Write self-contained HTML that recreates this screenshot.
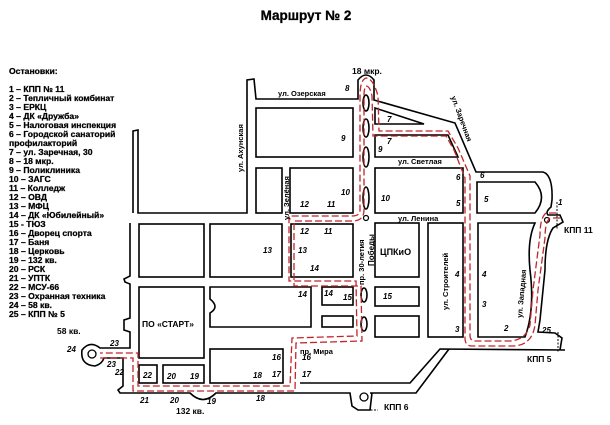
<!DOCTYPE html>
<html><head><meta charset="utf-8"><style>
body{margin:0;background:#fff}
svg{display:block}
text{font-family:"Liberation Sans",sans-serif;font-weight:bold}
.lg{font-size:8.6px;stroke:#000;stroke-width:0.25}
.n{font-size:8px;font-style:italic;font-weight:normal}
.s{font-size:7.5px}
.b{fill:#fff;stroke:#000;stroke-width:1.6}
.r{fill:none;stroke:#c0262b;stroke-width:1.3;stroke-dasharray:7 3}
</style></head><body>
<svg width="610" height="425" viewBox="0 0 610 425" xmlns="http://www.w3.org/2000/svg">
<text x="306" y="20" text-anchor="middle" font-size="13.5" stroke="#000" stroke-width="0.3">Маршрут № 2</text>
<g class="lg">
<text x="9" y="74">Остановки:</text>
<text x="9" y="92">1 – КПП № 11</text>
<text x="9" y="101">2 – Тепличный комбинат</text>
<text x="9" y="110">3 – ЕРКЦ</text>
<text x="9" y="119">4 – ДК «Дружба»</text>
<text x="9" y="128">5 – Налоговая инспекция</text>
<text x="9" y="137">6 – Городской санаторий</text>
<text x="9" y="146">профилакторий</text>
<text x="9" y="155">7 – ул. Заречная, 30</text>
<text x="9" y="164">8 – 18 мкр.</text>
<text x="9" y="173">9 – Поликлиника</text>
<text x="9" y="182">10 – ЗАГС</text>
<text x="9" y="191">11 – Колледж</text>
<text x="9" y="200">12 – ОВД</text>
<text x="9" y="209">13 – МФЦ</text>
<text x="9" y="218">14 – ДК «Юбилейный»</text>
<text x="9" y="227">15 - ТЮЗ</text>
<text x="9" y="236">16 – Дворец спорта</text>
<text x="9" y="245">17 – Баня</text>
<text x="9" y="254">18 – Церковь</text>
<text x="9" y="263">19 – 132 кв.</text>
<text x="9" y="272">20 – РСК</text>
<text x="9" y="281">21 – УПТК</text>
<text x="9" y="290">22 – МСУ-66</text>
<text x="9" y="299">23 – Охранная техника</text>
<text x="9" y="308">24 – 58 кв.</text>
<text x="9" y="317">25 – КПП № 5</text>
</g>
<g fill="none" stroke="#000" stroke-width="1.6">
<path d="M133,213 L133,131 L138,130 L138,213 L247,213 L247,80 L254,79 L256,99 L358,99 L358,80 Q366,70 374,80 L374,100 L455,123 L476,172 L543,172 Q553,175 552,200 L551,207 Q545,212 548,215 L560,215 L563,222 L553,228 Q545,240 545,270 L540,320 L538,332 L555,333 L562,338 L560,350 L565,350 L440,349 L410,383 L300,383"/>
<path d="M449,349 L416,393 L370,393"/>
<path d="M130,223 L130,276 L124,279 L125,282 L130,284 L130,318 L124,320 L124,330 L130,332 L130,348 L100,348 Q90,340 82,350 Q80,365 95,366 Q102,364 104,358 L123,358 L123,386 L118,390 L120,393 L190,393 Q203,406 216,393 L350,393 L352,406 L358,410 L370,410 L372,393"/>
</g>
<circle cx="92" cy="354" r="4" fill="none" stroke="#000" stroke-width="1.3"/>
<circle cx="364" cy="397" r="4" fill="none" stroke="#000" stroke-width="1.3"/>
<circle cx="366" cy="218" r="2.5" fill="none" stroke="#000" stroke-width="1.2"/>
<circle cx="547" cy="220" r="2.5" fill="none" stroke="#000" stroke-width="1.2"/>
<path d="M360,410 L378,410 M557,202 L557,230 M558,332 L558,352" stroke="#000" stroke-width="1" stroke-dasharray="2 1.5"/>
<rect class="b" x="256" y="108" width="97" height="49"/>
<rect class="b" x="256" y="168" width="26" height="45"/>
<rect class="b" x="290" y="168" width="63" height="45"/>
<path class="b" d="M375,108 L424,124 L375,124 Z"/>
<path class="b" d="M375,135 L448,135 L458,157 L375,157 Z"/>
<rect class="b" x="375" y="168" width="88" height="45"/>
<path class="b" d="M477,182 L535,182 Q548,197 535,213 L477,213 Z"/>
<rect class="b" x="139" y="224" width="65" height="53"/>
<rect class="b" x="210" y="224" width="72" height="53"/>
<rect class="b" x="291" y="224" width="62" height="53"/>
<rect class="b" x="375" y="223" width="44" height="54"/>
<rect class="b" x="428" y="223" width="35" height="114"/>
<path class="b" d="M478,223 L535,223 Q527,240 530,270 Q535,310 525,337 L478,337 Z"/>
<rect class="b" x="139" y="287" width="65" height="71"/>
<path class="b" d="M210,287 L311,287 L311,327 L210,327 L210,313 Q220,307 210,299 Z"/>
<rect class="b" x="322" y="287" width="31" height="18"/>
<rect class="b" x="322" y="316" width="31" height="11"/>
<rect class="b" x="375" y="287" width="44" height="19"/>
<rect class="b" x="375" y="316" width="44" height="21"/>
<rect class="b" x="210" y="349" width="73" height="34"/>
<rect class="b" x="139" y="365" width="18" height="18"/>
<rect class="b" x="163" y="365" width="41" height="18"/>
<g class="b"><ellipse cx="366" cy="103" rx="3" ry="8"/><ellipse cx="366" cy="128" rx="3" ry="9"/><ellipse cx="366" cy="157" rx="3" ry="10"/><ellipse cx="366" cy="198" rx="3" ry="11"/><ellipse cx="364" cy="295" rx="3" ry="7"/><ellipse cx="364" cy="324" rx="3" ry="7"/></g>
<path class="r" d="M556,213 L546,213 Q540,218 540,235 L533,290 L530,325 Q526,340 510,341 L475,341 Q470,341 470,335 L470,176 L458,148 L448,131 L379,131 L378,96 Q373,78 366,78 Q360,80 360,96 L360,210 Q360,216 352,216 L289,216 L289,281 L356,281 L357,336 L292,338 L290,386 L138,386 L138,353 L100,353"/>
<path class="r" d="M560,218 L550,218 Q545,222 545,238 L538,290 L535,325 Q532,346 512,346 L472,346 Q465,346 465,338 L465,178 L454,150 L446,136 L373,136 L372,96 Q370,86 366,86 Q364,88 364,96 L364,210 Q364,221 352,221 L294,221 L294,286 L361,286 L362,341 L296,343 L295,391 L133,391 L133,358 L100,358"/>
<g class="s">
<text x="278" y="96">ул. Озерская</text>
<text x="398" y="164">ул. Светлая</text>
<text x="398" y="221">ул. Ленина</text>
<text x="300" y="354">пр. Мира</text>
<text transform="translate(243,172) rotate(-90)">ул. Ахунская</text>
<text transform="translate(289,220) rotate(-90)">ул. Зелёная</text>
<text transform="translate(451,97) rotate(70)">ул. Заречная</text>
<text transform="translate(364,285) rotate(-90)">пр. 30-летия</text>
<text transform="translate(374,266) rotate(-90)" font-size="8">Победы</text>
<text transform="translate(448,310) rotate(-90)">ул. Строителей</text>
<text transform="translate(522,318) rotate(-85)">ул. Западная</text>
</g>
<g font-size="8.5">
<text x="352" y="74">18 мкр.</text>
<text x="564" y="233">КПП 11</text>
<text x="527" y="362">КПП 5</text>
<text x="384" y="410">КПП 6</text>
<text x="57" y="334">58 кв.</text>
<text x="176" y="414">132 кв.</text>
<text x="380" y="255" font-size="9">ЦПКиО</text>
<text x="142" y="327" font-size="8.5">ПО «СТАРТ»</text>
</g>
<g class="n">
<text x="345" y="91">8</text><text x="387" y="122">7</text><text x="387" y="144">7</text>
<text x="341" y="141">9</text><text x="378" y="152">9</text><text x="480" y="178">6</text><text x="456" y="180">6</text>
<text x="341" y="195">10</text><text x="381" y="201">10</text><text x="456" y="206">5</text><text x="484" y="202">5</text>
<text x="300" y="207">12</text><text x="327" y="207">11</text><text x="300" y="234">12</text><text x="324" y="234">11</text>
<text x="263" y="253">13</text><text x="298" y="253">13</text><text x="310" y="271">14</text>
<text x="298" y="297">14</text><text x="324" y="296">14</text><text x="343" y="300">15</text><text x="383" y="299">15</text>
<text x="455" y="277">4</text><text x="482" y="277">4</text><text x="455" y="332">3</text><text x="482" y="307">3</text>
<text x="504" y="331">2</text><text x="542" y="333">25</text><text x="558" y="205">1</text>
<text x="272" y="360">16</text><text x="302" y="360">16</text><text x="272" y="377">17</text><text x="302" y="377">17</text>
<text x="253" y="378">18</text><text x="256" y="401">18</text>
<text x="167" y="379">20</text><text x="190" y="379">19</text><text x="143" y="378">22</text>
<text x="115" y="375">22</text><text x="110" y="346">23</text><text x="107" y="367">23</text><text x="67" y="352">24</text>
<text x="140" y="403">21</text><text x="170" y="403">20</text><text x="207" y="404">19</text>
</g>
</svg>
</body></html>
